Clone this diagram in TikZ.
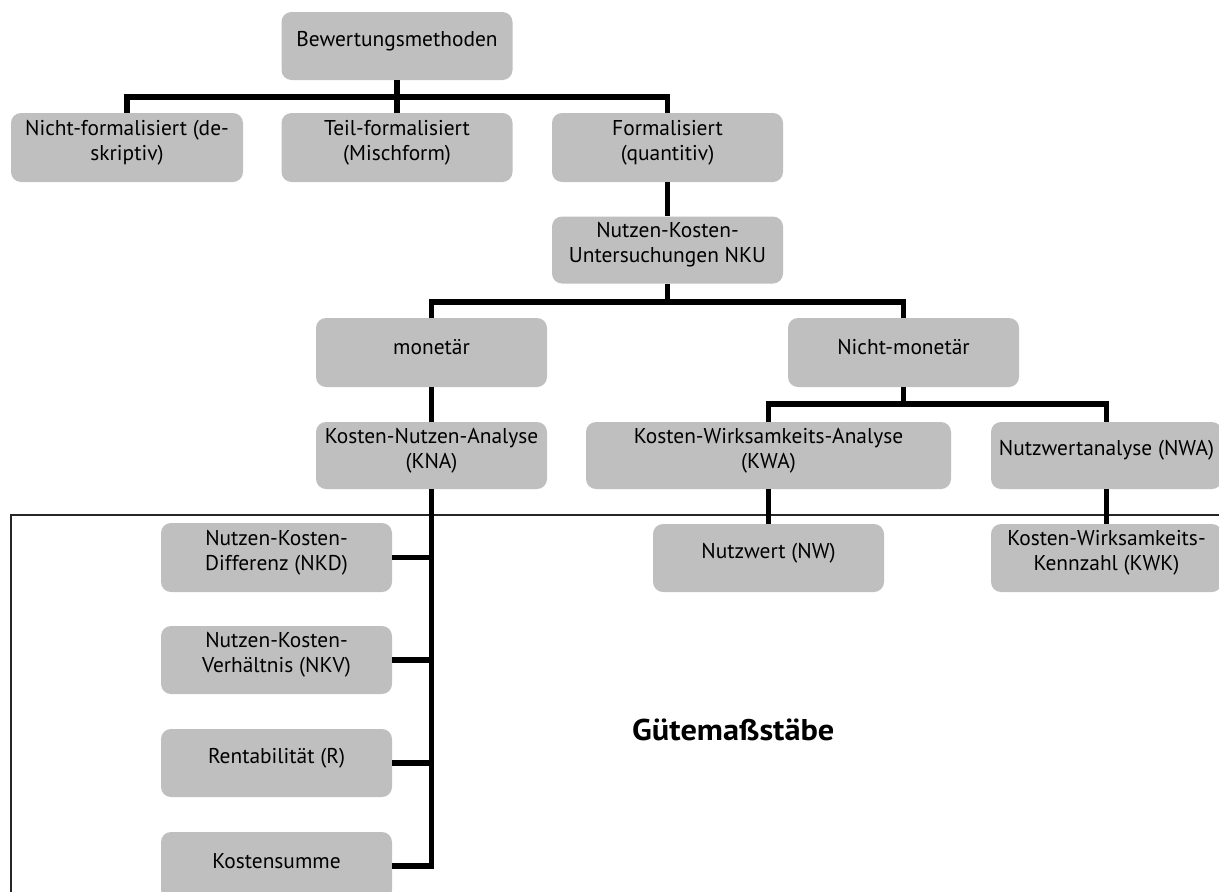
\documentclass[tikz,border=0pt]{standalone}
\usepackage{fontspec}
\setmainfont{PT Sans}
\newfontfamily\titlefont[FakeStretch=1.08]{PT Sans}
\definecolor{boxgray}{RGB}{191,191,191}
\begin{document}
\begin{tikzpicture}[x=1pt,y=-1pt,
  box/.style={fill=boxgray, rounded corners=10pt, minimum width=231pt, minimum height=68pt, inner sep=0pt},
  lbl/.style={align=center, font=\fontsize{21.4}{25}\selectfont, yshift=5pt, inner sep=0pt},
  conn/.style={line width=5.5pt, line join=miter},
  frameline/.style={line width=1.8pt, draw=black!85}]
\useasboundingbox (0,0) rectangle (1219,892);
% frame
\coordinate (fbl) at (11,905);
\coordinate (ftr) at (1235,515);
\draw[frameline] (fbl) |- (ftr);
% boxes
\node[box, label={[lbl]center:Bewertungsmethoden}] (bew) at (397,46) {};
\node[box, minimum width=232pt, minimum height=69pt, label={[lbl]center:{Nicht-formalisiert (de-\\skriptiv)}}] (nf) at (127,147.5) {};
\node[box, minimum height=69pt, label={[lbl]center:{Teil-formalisiert\\(Mischform)}}] (tf) at (397,147.5) {};
\node[box, minimum height=69pt, label={[lbl]center:{Formalisiert\\(quantitiv)}}] (fo) at (667.5,147.5) {};
\node[box, minimum height=67pt, label={[lbl]center:{Nutzen-Kosten-\\Untersuchungen NKU}}] (nku) at (667.5,250) {};
\node[box, minimum height=69pt, label={[lbl]center:monetär}] (mon) at (431.5,352.5) {};
\node[box, minimum height=69pt, label={[lbl]center:Nicht-monetär}] (nmon) at (903.5,352.5) {};
\node[box, minimum height=67pt, label={[lbl]center:{Kosten-Nutzen-Analyse\\(KNA)}}] (kna) at (431.5,455.5) {};
\node[box, minimum width=365pt, minimum height=67pt, label={[lbl]center:{Kosten-Wirksamkeits-Analyse\\(KWA)}}] (kwa) at (768.5,455.5) {};
\node[box, minimum height=67pt, label={[lbl]center:{Nutzwertanalyse (NWA)}}] (nwa) at (1106.5,455.5) {};
\node[box, label={[lbl]center:{Nutzwert (NW)}}] (nw) at (768.5,558) {};
\node[box, label={[lbl]center:{Kosten-Wirksamkeits-\\Kennzahl (KWK)}}] (kwk) at (1106.5,558) {};
\node[box, minimum height=69pt, label={[lbl]center:{Nutzen-Kosten-\\Differenz (NKD)}}] (nkd) at (276.5,557.5) {};
\node[box, label={[lbl]center:{Nutzen-Kosten-\\Verhältnis (NKV)}}] (nkv) at (276.5,660) {};
\node[box, label={[lbl]center:{Rentabilität (R)}}] (r) at (276.5,763) {};
\node[box, label={[lbl]center:Kostensumme}] (ks) at (276.5,866) {};
% title
\node[anchor=base west, inner sep=0pt, font=\titlefont\fontsize{30}{35}\selectfont\bfseries] (gm) at (632,740) {Gütemaßstäbe};
% connectors
\coordinate (bar1) at (0,97);
\coordinate (bar2) at (0,302);
\coordinate (bar3) at (0,404);
\draw[conn] (bew.south) -- (bew.south |- bar1);
\draw[conn] (nf.north) -- (nf.north |- bar1) -- (fo.north |- bar1) -- (fo.north);
\draw[conn] (tf.north) -- (tf.north |- bar1);
\draw[conn] (fo.south) -- (nku.north);
\draw[conn] (nku.south) -- (nku.south |- bar2);
\draw[conn] (mon.north) -- (mon.north |- bar2) -- (nmon.north |- bar2) -- (nmon.north);
\draw[conn] (mon.south) -- (kna.north);
\draw[conn] (nmon.south) -- (nmon.south |- bar3);
\draw[conn] (kwa.north) -- (kwa.north |- bar3) -- (nwa.north |- bar3) -- (nwa.north);
\draw[conn] (kwa.south) -- (nw.north);
\draw[conn] (nwa.south) -- (kwk.north);
\draw[conn] (kna.south) -- (kna.south |- ks.east) -- (ks.east);
\draw[conn] (nkd.east) -- (nkd.east -| kna.south);
\draw[conn] (nkv.east) -- (nkv.east -| kna.south);
\draw[conn] (r.east) -- (r.east -| kna.south);
\end{tikzpicture}
\end{document}
